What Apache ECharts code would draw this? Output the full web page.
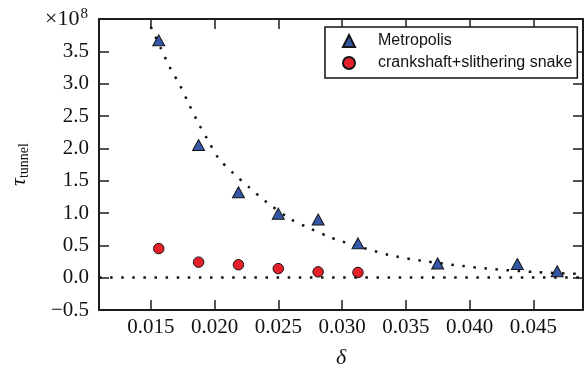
<!DOCTYPE html>
<html>
<head>
<meta charset="utf-8">
<script src="https://cdn.jsdelivr.net/npm/echarts@6/dist/echarts.min.js"></script>
<style>
html,body{margin:0;padding:0;background:#fff;}
#c{width:584px;height:374px;}
</style>
</head>
<body>
<div id="c"></div>
<script>
// ---- data ----
const metroDelta = [0.015625, 0.01875, 0.021875, 0.025, 0.028125, 0.03125, 0.0375, 0.04375, 0.046875];
const metroTau   = [3.67, 2.05, 1.32, 0.99, 0.90, 0.53, 0.22, 0.21, 0.10];
const crankDelta = [0.015625, 0.01875, 0.021875, 0.025, 0.028125, 0.03125];
const crankTau   = [0.45, 0.24, 0.20, 0.14, 0.09, 0.08];
const fitDelta = [0.0150, 0.0158, 0.0165, 0.0173, 0.0180, 0.0187, 0.0195, 0.0203, 0.0215, 0.0227, 0.0240, 0.0260, 0.0275, 0.0290, 0.0300, 0.0337, 0.0363, 0.0395, 0.0420, 0.0453, 0.0489];
const fitTau   = [3.88, 3.54, 3.25, 2.97, 2.68, 2.40, 2.12, 1.85, 1.61, 1.40, 1.18, 0.90, 0.76, 0.63, 0.56, 0.35, 0.26, 0.18, 0.13, 0.085, 0.055];
const xTicks = [0.015, 0.020, 0.025, 0.030, 0.035, 0.040, 0.045];
const yTicks = [-0.5, 0.0, 0.5, 1.0, 1.5, 2.0, 2.5, 3.0, 3.5];
const seriesNames = ['Metropolis', 'crankshaft+slithering snake'];

const X_MIN = 0.0109375, X_MAX = 0.0489, Y_MIN = -0.5, Y_MAX = 4.0;
const AX = '#1c1c1c';
const SERIF = '"Liberation Serif", "DejaVu Serif", serif';
const SANS = '"Liberation Sans", Arial, sans-serif';

const zip = (a, b) => a.map((v, i) => [v, b[i]]);
const fmtY = v => (v < 0 ? '\u2212' : '') + Math.abs(v).toFixed(1);

const chart = echarts.init(document.getElementById('c'), null, {renderer: 'canvas'});
chart.setOption({
  animation: false,
  backgroundColor: '#fff',
  grid: {left: 97, right: 1, top: 19, bottom: 53},
  legend: {
    data: seriesNames,
    orient: 'vertical',
    left: 325, top: 27,
    padding: [6, 5, 7, 17],
    itemWidth: 12, itemHeight: 12, itemGap: 6,
    borderColor: '#111', borderWidth: 1.5, borderRadius: 0,
    backgroundColor: '#fff',
    formatter: name => '{g|}{n|' + name + '}',
    textStyle: {
      fontFamily: SANS, fontSize: 16, color: '#111', lineHeight: 16,
      rich: {
        g: {width: 18, height: 16},
        n: {fontFamily: SANS, fontSize: 16, color: '#111', lineHeight: 16}
      }
    }
  },
  xAxis: [{
    type: 'value', min: X_MIN, max: X_MAX, position: 'bottom',
    axisLine: {show: true, onZero: false, lineStyle: {color: AX, width: 2}},
    axisTick: {show: true, inside: true, length: 10, customValues: xTicks, lineStyle: {color: AX, width: 1.5}},
    axisLabel: {customValues: xTicks, formatter: v => v.toFixed(3), fontFamily: SERIF, fontSize: 21, color: '#111', margin: 7},
    splitLine: {show: false},
    name: 'δ', nameLocation: 'middle', nameGap: 37,
    nameTextStyle: {fontFamily: SERIF, fontStyle: 'italic', fontSize: 22, color: '#111'}
  }, {
    type: 'value', min: X_MIN, max: X_MAX, position: 'top',
    axisLine: {show: true, onZero: false, lineStyle: {color: AX, width: 2}},
    axisTick: {show: true, inside: true, length: 10, customValues: xTicks, lineStyle: {color: AX, width: 1.5}},
    axisLabel: {show: false}, splitLine: {show: false}
  }],
  yAxis: [{
    type: 'value', min: Y_MIN, max: Y_MAX, position: 'left',
    axisLine: {show: true, onZero: false, lineStyle: {color: AX, width: 2}},
    axisTick: {show: true, inside: true, length: 10, customValues: yTicks, lineStyle: {color: AX, width: 1.5}},
    axisLabel: {customValues: yTicks, formatter: fmtY, fontFamily: SERIF, fontSize: 21, color: '#111', margin: 10},
    splitLine: {show: false},
    name: '{t|τ}{s|tunnel}', nameLocation: 'middle', nameGap: 68, nameRotate: 90,
    nameTextStyle: {
      rich: {
        t: {fontFamily: SERIF, fontStyle: 'italic', fontSize: 22, color: '#111', lineHeight: 24},
        s: {fontFamily: SERIF, fontSize: 14, color: '#111', lineHeight: 14, verticalAlign: 'bottom'}
      }
    }
  }, {
    type: 'value', min: Y_MIN, max: Y_MAX, position: 'right',
    axisLine: {show: true, onZero: false, lineStyle: {color: AX, width: 2}},
    axisTick: {show: true, inside: true, length: 10, customValues: yTicks, lineStyle: {color: AX, width: 1.5}},
    axisLabel: {show: false}, splitLine: {show: false}
  }, {
    type: 'value', min: Y_MIN, max: Y_MAX, position: 'left',
    axisLine: {show: false}, axisTick: {show: false}, axisLabel: {show: false}, splitLine: {show: false},
    name: '{a|×10}{b|8}', nameLocation: 'end', nameGap: 0,
    nameTextStyle: {
      align: 'right', verticalAlign: 'middle', padding: [0, 11, 0, 0],
      rich: {
        a: {fontFamily: SERIF, fontSize: 22, color: '#111', lineHeight: 24},
        b: {fontFamily: SERIF, fontSize: 15, color: '#111', lineHeight: 15, verticalAlign: 'top', padding: [0, 0, 0, 1]}
      }
    }
  }],
  series: [{
    name: 'fit', type: 'line', data: zip(fitDelta, fitTau), smooth: 0.3,
    showSymbol: false, symbol: 'none', z: 1, silent: true,
    lineStyle: {color: '#111', width: 2.5, type: [2.5, 8.6]}
  }, {
    name: seriesNames[0], type: 'scatter', data: zip(metroDelta, metroTau),
    symbol: 'triangle', symbolSize: [12, 11], z: 3,
    itemStyle: {color: '#3457a8', borderColor: '#151515', borderWidth: 1, opacity: 1}
  }, {
    name: seriesNames[1], type: 'scatter', data: zip(crankDelta, crankTau),
    symbol: 'circle', symbolSize: 10.5, z: 3,
    itemStyle: {color: '#e5202a', borderColor: '#151515', borderWidth: 1, opacity: 1},
    markLine: {
      silent: true, symbol: 'none', label: {show: false},
      lineStyle: {color: '#111', width: 2.5, type: [2.5, 8.6]},
      data: [{yAxis: 0}]
    }
  }]
});
</script>
</body>
</html>
